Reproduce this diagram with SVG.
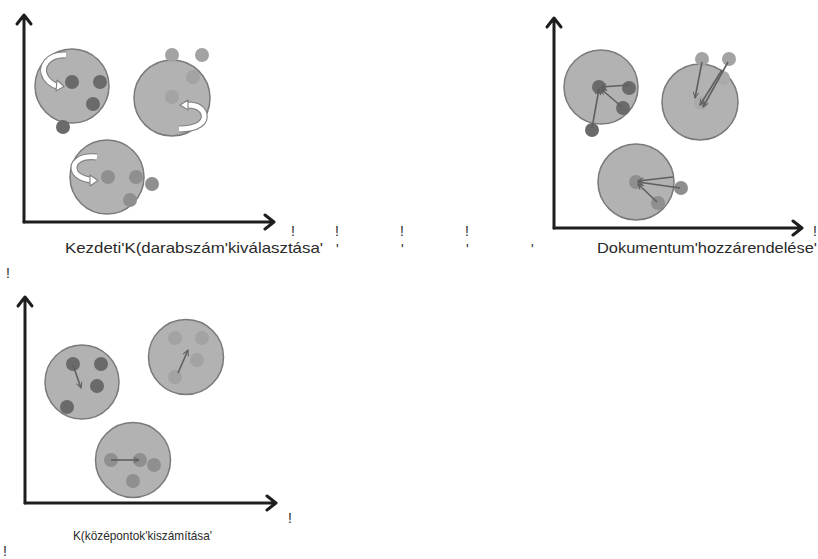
<svg xmlns="http://www.w3.org/2000/svg" width="818" height="559" viewBox="0 0 818 559">
  <style>
    .axis { fill: none; stroke: #1e1e1e; stroke-width: 3; stroke-linecap: round; stroke-linejoin: round; }
    .cluster { fill: #b2b2b2; stroke: #7a7a7a; stroke-width: 1.5; }
    .dark { fill: #6a6a6a; }
    .mid { fill: #8f8f8f; }
    .light { fill: #a3a3a3; }
    .faint { fill: #aaaaaa; }
    .band-edge { fill: none; stroke: #808080; stroke-width: 7; }
    .band { fill: none; stroke: #ffffff; stroke-width: 4.8; }
    .band-head { fill: #ffffff; stroke: #808080; stroke-width: 1.1; stroke-linejoin: round; }
    .move { fill: none; stroke: #5f5f5f; stroke-width: 1.6; marker-end: url(#open); }
    .label { font-family: "Liberation Sans", Arial, sans-serif; fill: #2a2a2a; }
    .mark { font-family: "Liberation Sans", Arial, sans-serif; fill: #2a2a2a; font-size: 14px; }
  </style>
  <defs>
    <marker id="open" viewBox="0 0 10 10" refX="9" refY="5" markerWidth="7" markerHeight="7" orient="auto" markerUnits="userSpaceOnUse">
      <path d="M1,1 L9,5 L1,9" fill="none" stroke="#5f5f5f" stroke-width="1.4"/>
    </marker>
  </defs>

  <rect width="818" height="559" fill="#ffffff"/>

  <!-- Step 1: initial K selection -->
  <g id="axes-initial">
    <path class="axis" d="M24,222 L24,16 M17,24 L24,15 L31,24"/>
    <path class="axis" d="M24,222 L274,222 M265,215 L274,222 L265,229"/>
  </g>
  <g id="cluster-initial-1">
    <circle class="cluster" cx="72" cy="86" r="37"/>
    <circle class="dark" cx="72" cy="82" r="7"/>
    <circle class="dark" cx="100" cy="82" r="7"/>
    <circle class="dark" cx="93" cy="104" r="7"/>
    <circle class="dark" cx="63" cy="127" r="7"/>
  </g>
  <g id="cluster-initial-2">
    <circle class="cluster" cx="172" cy="98" r="38"/>
    <circle class="light" cx="172" cy="55" r="7"/>
    <circle class="light" cx="202" cy="55" r="7"/>
    <circle class="light" cx="193" cy="77" r="7"/>
    <circle class="light" cx="172" cy="97" r="7"/>
  </g>
  <g id="cluster-initial-3">
    <circle class="cluster" cx="107" cy="177" r="37"/>
    <circle class="mid" cx="108" cy="177" r="7"/>
    <circle class="mid" cx="136" cy="177" r="7"/>
    <circle class="mid" cx="152" cy="184" r="7"/>
    <circle class="mid" cx="130" cy="200" r="7"/>
  </g>

  <!-- Step 2: document assignment -->
  <g id="axes-assign">
    <path class="axis" d="M554,228 L554,19 M547,27 L554,18 L561,27"/>
    <path class="axis" d="M554,228 L802,228 M793,221 L802,228 L793,235"/>
  </g>
  <g id="cluster-assign-1">
    <circle class="cluster" cx="601" cy="87" r="37"/>
    <circle class="dark" cx="599" cy="87" r="7"/>
    <circle class="dark" cx="629" cy="88" r="7"/>
    <circle class="dark" cx="623" cy="108" r="7"/>
    <circle class="dark" cx="592" cy="130" r="7"/>
  </g>
  <g id="cluster-assign-2">
    <circle class="cluster" cx="700" cy="102" r="38"/>
    <circle class="faint" cx="723" cy="78" r="7"/>
    <circle class="faint" cx="701" cy="103" r="7"/>
    <circle class="light" cx="702" cy="59" r="7"/>
    <circle class="light" cx="729" cy="59" r="7"/>
  </g>
  <g id="cluster-assign-3">
    <circle class="cluster" cx="636" cy="182" r="38"/>
    <circle class="mid" cx="636" cy="182" r="7"/>
    <circle class="mid" cx="681" cy="188" r="7"/>
    <circle class="mid" cx="658" cy="203" r="7"/>
  </g>

  <!-- Step 3: centroid update -->
  <g id="axes-centroid">
    <path class="axis" d="M25,503 L25,298 M18,306 L25,297 L32,306"/>
    <path class="axis" d="M25,503 L276,503 M267,496 L276,503 L267,510"/>
  </g>
  <g id="cluster-centroid-1">
    <circle class="cluster" cx="82" cy="382" r="37"/>
    <circle class="dark" cx="73" cy="364" r="7"/>
    <circle class="dark" cx="101" cy="364" r="7"/>
    <circle class="dark" cx="97" cy="386" r="7"/>
    <circle class="dark" cx="67" cy="407" r="7"/>
  </g>
  <g id="cluster-centroid-2">
    <circle class="cluster" cx="186" cy="357" r="37.5"/>
    <circle class="light" cx="175" cy="338" r="7"/>
    <circle class="light" cx="202" cy="338" r="7"/>
    <circle class="light" cx="197" cy="360" r="7"/>
    <circle class="light" cx="175" cy="377" r="7"/>
  </g>
  <g id="cluster-centroid-3">
    <circle class="cluster" cx="133" cy="460" r="37.5"/>
    <circle class="mid" cx="111" cy="460" r="7"/>
    <circle class="mid" cx="140" cy="460" r="7"/>
    <circle class="mid" cx="154" cy="465" r="7"/>
    <circle class="mid" cx="133" cy="481" r="7"/>
  </g>

  <g id="connectors">
    <!-- curved seed-picking arrows -->
    <path class="band-edge" d="M66,55 C48,54 39,67 46,78 C49,82 53,85 57,86"/>
    <path class="band" d="M66,55 C48,54 39,67 46,78 C49,82 53,85 57,86"/>
    <polygon class="band-head" points="57,80 64,86.5 56,91"/>

    <path class="band-edge" d="M179,129 C198,129 206,122 204,114 C202,108 196,105 188,105"/>
    <path class="band" d="M179,129 C198,129 206,122 204,114 C202,108 196,105 188,105"/>
    <polygon class="band-head" points="188,100 180,105 188,110"/>

    <path class="band-edge" d="M97,157 C80,155 71,163 75,172 C78,177 84,179 90,180"/>
    <path class="band" d="M97,157 C80,155 71,163 75,172 C78,177 84,179 90,180"/>
    <polygon class="band-head" points="90,175 98,180.5 90,186"/>

    <!-- assignment moves -->
    <line class="move" x1="629" y1="85" x2="601" y2="87"/>
    <line class="move" x1="622" y1="107" x2="601" y2="89"/>
    <line class="move" x1="592" y1="128" x2="599" y2="89"/>
    <line class="move" x1="702" y1="62" x2="695" y2="98"/>
    <line class="move" x1="728" y1="62" x2="703" y2="107"/>
    <line class="move" x1="722" y1="70" x2="700" y2="105"/>
    <line class="move" x1="673" y1="177" x2="638" y2="181"/>
    <line class="move" x1="680" y1="188" x2="638" y2="182"/>
    <line class="move" x1="657" y1="202" x2="638" y2="184"/>

    <!-- centroid shifts -->
    <line class="move" x1="73" y1="365" x2="81" y2="388"/>
    <line class="move" x1="178" y1="373" x2="188" y2="350"/>
    <line class="move" x1="111" y1="460" x2="139" y2="460"/>
  </g>

  <g id="labels">
    <text class="label" x="65" y="253" font-size="15" textLength="258" lengthAdjust="spacingAndGlyphs">Kezdeti'K(darabszám'kiválasztása'</text>
    <text class="label" x="597" y="253" font-size="15" textLength="220" lengthAdjust="spacingAndGlyphs">Dokumentum'hozzárendelése'</text>
    <text class="label" x="73" y="540" font-size="13" textLength="139" lengthAdjust="spacingAndGlyphs">K(középontok'kiszámítása'</text>

    <text class="mark" x="291" y="236">!</text>
    <text class="mark" x="335" y="236">!</text>
    <text class="mark" x="400" y="236">!</text>
    <text class="mark" x="465" y="236">!</text>
    <text class="mark" x="336" y="254">'</text>
    <text class="mark" x="401" y="254">'</text>
    <text class="mark" x="466" y="254">'</text>
    <text class="mark" x="531" y="254">'</text>
    <text class="mark" x="813" y="236">!</text>
    <text class="mark" x="6" y="278">!</text>
    <text class="mark" x="288" y="523">!</text>
    <text class="mark" x="3" y="556">!</text>
  </g>
</svg>
